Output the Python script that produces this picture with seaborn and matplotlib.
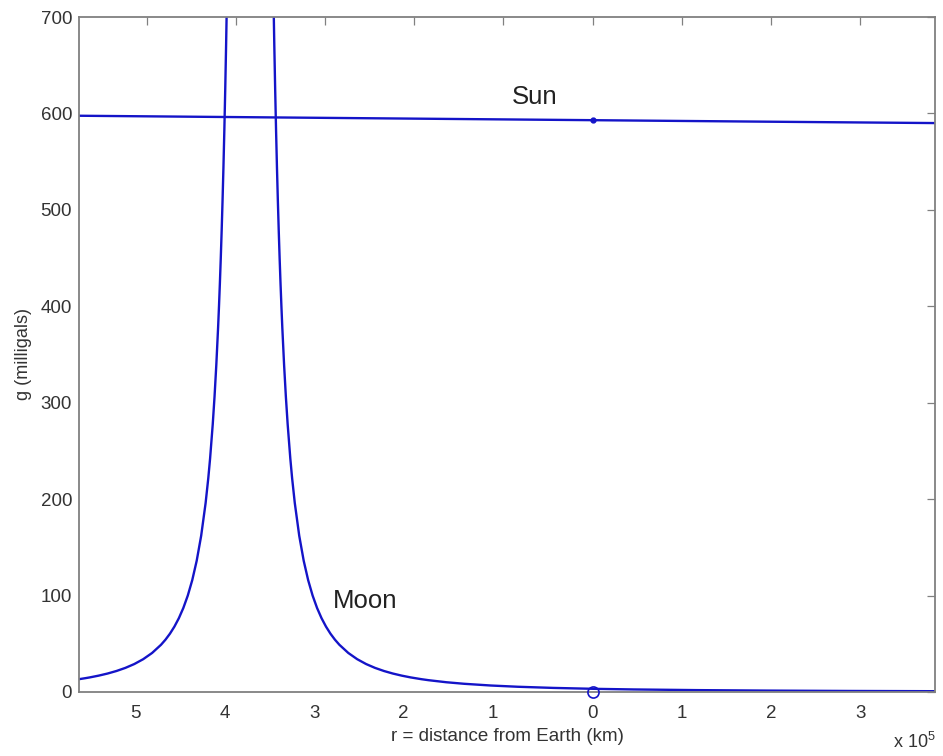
import matplotlib
matplotlib.use("Agg")
import matplotlib.pyplot as plt
import matplotlib.transforms as mtransforms
import seaborn as sns
import pandas as pd

# ---- data (x in units of 1e5 km, g in milligals) ----
moon_left_x = [-5.76, -5.69, -5.64, -5.54, -5.44, -5.34, -5.24, -5.14, -5.04, -4.94, -4.84,
               -4.79, -4.74, -4.69, -4.64, -4.59, -4.54, -4.49, -4.44, -4.39, -4.34, -4.31,
               -4.29, -4.26, -4.24, -4.22, -4.20, -4.19, -4.18, -4.17, -4.16, -4.15, -4.14,
               -4.13, -4.12, -4.11, -4.10]
moon_left_g = [13.29, 14.32, 15.12, 16.96, 19.14, 21.78, 25.0, 28.99, 34.03, 40.50, 49.0,
               54.29, 60.49, 67.82, 76.56, 87.11, 100.0, 115.98, 136.11, 161.98, 196.0, 221.82,
               241.98, 277.78, 306.25, 339.34, 378.09, 400.0, 423.88, 449.95, 478.52, 509.89, 544.44,
               582.64, 625.0, 672.15, 724.85]
moon_right_x = [-3.58, -3.57, -3.56, -3.55, -3.54, -3.53, -3.52, -3.51, -3.50, -3.49, -3.48,
                -3.46, -3.44, -3.42, -3.39, -3.37, -3.34, -3.29, -3.24, -3.19, -3.14, -3.09,
                -3.04, -2.99, -2.94, -2.89, -2.84, -2.74, -2.64, -2.54, -2.44, -2.34, -2.24,
                -2.14, -2.04, -1.92, -1.84, -1.64, -1.44, -1.14, -0.84, -0.44, 0.0, 0.46,
                1.16, 1.96, 2.86, 3.84]
moon_right_g = [724.85, 672.15, 625.0, 582.64, 544.44, 509.89, 478.52, 449.95, 423.88, 400.0, 378.09,
                339.34, 306.25, 277.78, 241.98, 221.82, 196.0, 161.98, 136.11, 115.98, 100.0, 87.11,
                76.56, 67.82, 60.49, 54.29, 49.0, 40.50, 34.03, 28.99, 25.0, 21.78, 19.14,
                16.96, 15.12, 13.29, 12.25, 10.12, 8.51, 6.72, 5.44, 4.24, 3.32, 2.65,
                1.96, 1.46, 1.09, 0.83]
sun_x = [-5.76, -4.0, -2.0, 0.0, 2.0, 3.84]
sun_g = [597.6, 596.2, 594.6, 593.0, 591.4, 590.0]
earth_x = [0.0]
earth_g_moon = [0.0]
earth_g_sun = [593.0]

x_ticks = [-5, -4, -3, -2, -1, 0, 1, 2, 3]
x_ticklabels = ["5", "4", "3", "2", "1", "0", "1", "2", "3"]
y_ticks = [0, 100, 200, 300, 400, 500, 600, 700]

sns.set_style("white")
plt.rcParams["font.family"] = ["Liberation Sans", "DejaVu Sans"]
plt.rcParams["mathtext.fontset"] = "custom"
plt.rcParams["mathtext.rm"] = "Liberation Sans"
plt.rcParams["mathtext.it"] = "Liberation Sans"

W, H = 943, 756
fig = plt.figure(figsize=(W / 100, H / 100), dpi=100)
ax = fig.add_axes([79 / W, 1 - 692 / H, (935 - 79) / W, (692 - 17) / H])

blue = "#1414c8"
df_l = pd.DataFrame({"x": moon_left_x, "g": moon_left_g})
df_r = pd.DataFrame({"x": moon_right_x, "g": moon_right_g})
df_s = pd.DataFrame({"x": sun_x, "g": sun_g})
for d in (df_l, df_r, df_s):
    sns.lineplot(data=d, x="x", y="g", ax=ax, sort=False, estimator=None,
                 color=blue, lw=1.7)

ax.plot(earth_x, earth_g_sun, marker="o", ms=3.5, color=blue, ls="none")
ax.plot(earth_x, earth_g_moon, marker="o", ms=8, mfc="none", mec=blue, mew=1.2,
        ls="none", clip_on=False, zorder=5)

ax.set_xlim(-5.76, 3.84)
ax.set_ylim(0, 700)
ax.set_xticks(x_ticks)
ax.set_xticklabels(x_ticklabels)
ax.set_yticks(y_ticks)

grey = "#808080"
for s in ax.spines.values():
    s.set_visible(True)
    s.set_color(grey)
    s.set_linewidth(1.3)
ax.tick_params(direction="in", top=True, right=True, length=6, width=0.9,
               color=grey, labelcolor="#333333", labelsize=13.5)
ax.tick_params(axis="x", pad=9)
ax.tick_params(axis="y", pad=5)

# shift labels of negative positions (minus sign dropped) to the left
for t, lab in zip(x_ticks, ax.get_xticklabels()):
    if t < 0:
        lab.set_transform(lab.get_transform() +
                          mtransforms.ScaledTranslation(-11 / 100, 0, fig.dpi_scale_trans))

ax.set_xlabel("r = distance from Earth (km)", fontsize=13.5, color="#333333", labelpad=5)
ax.set_ylabel("g (milligals)", fontsize=13, color="#333333", labelpad=6)

ax.text(-0.91, 617, "Sun", fontsize=18.5, color="#222222", ha="left", va="center")
ax.text(-2.91, 94, "Moon", fontsize=18.5, color="#222222", ha="left", va="center")
fig.text(893 / W, 1 - 742 / H, r"x 10$^{5}$", fontsize=13, color="#333333",
         ha="left", va="center")

fig.savefig("out.png", dpi=100, facecolor="white")
